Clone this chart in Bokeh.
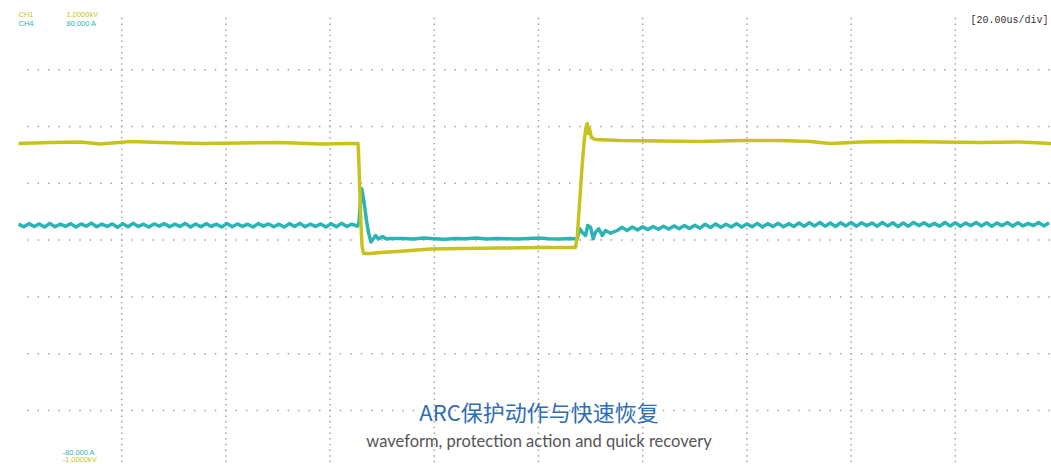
import numpy as np
from bokeh.plotting import figure
from bokeh.models import Range1d, Label
from bokeh.embed import file_html
from bokeh.resources import INLINE

# ---------------- scope settings ----------------
time_per_div_us = 20.0          # [20.00us/div]
ch1_limits_v = (-1000.0, 1000.0)  # CH1 screen lower / upper limit
ch4_limits_a = (-80.0, 80.0)      # CH4 screen lower / upper limit

# ---------------- CH1 voltage trace (V vs us) ----------------
ch1_t = [0.19, 6.33, 12.09, 15.93, 21.69, 27.44, 35.12, 42.80, 50.47, 58.15, 63.90,
         65.36, 65.55, 65.74, 65.93, 66.12, 66.41, 67.75, 69.67, 72.94, 79.27, 85.03,
         92.71, 100.38, 107.10, 107.46, 107.85, 108.33, 108.81, 109.19, 109.38, 109.57,
         109.77, 110.15, 110.92, 115.72, 123.39, 131.07, 138.74, 146.42, 152.17, 156.01,
         161.77, 169.45, 177.12, 184.80, 192.47, 198.42]
ch1_v = [425.1, 429.5, 431.7, 422.9, 433.9, 429.5, 425.1, 427.3, 429.5, 422.9, 425.1,
         425.2, 328.3, 196.3, 64.3, -23.8, -59.0, -59.0, -54.6, -50.2, -39.2, -37.0,
         -34.8, -32.6, -32.6, 20.2, 152.2, 315.0, 447.1, 504.4, 513.2, 469.2,
         491.2, 451.5, 442.7, 438.3, 436.1, 433.9, 438.3, 438.3, 433.9, 425.1,
         431.7, 433.9, 431.7, 429.5, 431.7, 425.1]

# ---------------- CH4 current trace (A vs us) ----------------
# before the arc event, sampled every 1 us from t = 0.2 us
ch4_pre = [5.6, 4.7, 5.8, 4.8, 5.7, 4.6, 5.9, 4.7, 5.6, 4.8, 5.8, 4.6, 5.7, 4.9, 6.0, 4.7,
           5.6, 4.8, 5.7, 4.5, 5.8, 4.7, 5.9, 4.8, 5.6, 4.6, 5.7, 4.9, 5.8, 4.7, 5.6, 4.8,
           5.9, 4.6, 5.7, 4.7, 5.8, 4.8, 5.6, 4.6, 5.9, 4.7, 5.7, 4.8, 5.6, 4.6, 5.8, 4.9,
           5.7, 4.7, 5.6, 4.6, 5.8, 4.8, 5.9, 4.7, 5.6, 4.8, 5.7, 4.6, 5.8, 4.7, 5.9, 4.8,
           5.6, 4.9]
# protection spike and low period
ch4_mid_t = [65.55, 65.84, 66.03, 66.22, 66.60, 66.99, 67.37, 67.85, 68.33, 68.72, 69.29,
             70.06, 70.83, 71.59, 74.0, 76.0, 78.0, 80.0, 82.0, 84.0, 86.0, 88.0, 90.0,
             92.0, 94.0, 96.0, 98.0, 100.0, 102.0, 104.0, 106.0, 107.1,
             107.42, 107.92, 108.38, 109.02, 109.46, 109.98, 110.50, 110.94, 111.57,
             112.23, 112.86, 113.82, 115.11]
ch4_mid_a = [6.20, 13.94, 18.17, 16.76, 12.18, 6.90, 2.68, -0.67, 0.56, 1.62, 0.39,
             1.27, 0.39, 0.56, 0.6, 0.4, 0.7, 0.5, 0.3, 0.6, 0.5, 0.7, 0.4,
             0.6, 0.5, 0.4, 0.6, 0.7, 0.5, 0.4, 0.6, 0.5,
             0.46, 3.98, 2.78, 1.62, 5.14, 4.54, 0.46, 2.78, 3.98,
             1.62, 3.38, 2.43, 3.38]
# after recovery, sampled every 1 us from t = 116 us
ch4_post = [4.5, 3.4, 4.6, 3.6, 4.7, 3.7, 4.8, 3.8, 4.9, 3.9, 5.0, 4.0, 5.1, 4.1, 5.2, 4.2,
            5.6, 4.4, 5.7, 4.5, 5.6, 4.6, 5.8, 4.6, 5.7, 4.7, 5.9, 4.6, 5.8, 4.8, 5.9, 4.7,
            5.8, 4.8, 6.0,
            4.9, 6.1, 5.0, 6.2, 4.9, 6.0, 4.8, 6.1, 5.0, 6.2, 4.9, 6.1, 5.1, 6.0, 4.9, 6.2,
            5.0, 6.1, 4.8, 6.0, 4.9, 6.2, 5.1, 6.1, 5.0, 5.9, 4.9, 6.2, 5.0, 6.1, 4.9, 6.0,
            5.1, 6.2, 5.0, 6.1, 4.9, 6.0, 5.1, 6.2, 4.9, 6.1, 5.0, 5.9, 5.1, 6.2, 5.0, 6.1]

ch4_t = list(0.2 + np.arange(len(ch4_pre))) + ch4_mid_t + list(116.0 + np.arange(len(ch4_post)))
ch4_a = ch4_pre + ch4_mid_a + ch4_post

# ---------------- texts ----------------
ch1_name, ch1_top_txt, ch1_bot_txt = "CH1", "1.0000kV", "-1.0000kV"
ch4_name, ch4_top_txt, ch4_bot_txt = "CH4", "80.000 A", "-80.000 A"
timebase_txt = "[20.00us/div]"
title_txt = "ARC保护动作与快速恢复"
subtitle_txt = "waveform, protection action and quick recovery"

YELLOW = "#c8c31c"
CYAN = "#2bb4b6"
DOT = "#a3a3a3"

# ---------------- geometry (screen) ----------------
W, H = 1051, 464
div_px_x, div_px_y = 104.2, 56.8
left_px = 17.0          # screen left edge inside frame
center_px = 239.6       # screen vertical centre inside frame

v_per_div = (ch1_limits_v[1] - ch1_limits_v[0]) / 8
a_per_div = (ch4_limits_a[1] - ch4_limits_a[0]) / 8

x0 = -left_px / div_px_x * time_per_div_us
x1 = (W - left_px) / div_px_x * time_per_div_us
vt = center_px / div_px_y * v_per_div
vb = -(H - center_px) / div_px_y * v_per_div
at = center_px / div_px_y * a_per_div
ab = -(H - center_px) / div_px_y * a_per_div


def px_t(xp):
    return (xp - left_px) / div_px_x * time_per_div_us


def px_v(yp):
    return (center_px - yp) / div_px_y * v_per_div


p = figure(width=W, height=H, x_range=Range1d(x0, x1), y_range=Range1d(vb, vt),
           output_backend="svg", toolbar_location=None, min_border=0,
           background_fill_color="white", border_fill_color="white")
p.extra_y_ranges = {"amp": Range1d(ab, at)}
p.xaxis.visible = False
p.yaxis.visible = False
p.grid.visible = False
p.outline_line_color = None

# dotted graticule
sub = np.arange(1, 100) / 10.0
hx, hy = [], []
for v in range(-3, 4):
    hx.extend(sub * time_per_div_us)
    hy.extend([v * v_per_div] * len(sub))
vsub = np.arange(-39, 40) / 10.0
for d in range(1, 10):
    hx.extend([d * time_per_div_us] * len(vsub))
    hy.extend(vsub * v_per_div)
p.scatter(hx, hy, marker="square", size=1.5, fill_color=DOT, line_color=None)

# traces
p.line(ch4_t, ch4_a, line_color=CYAN, line_width=3.5, line_join="round", y_range_name="amp")
p.line(ch1_t, ch1_v, line_color=YELLOW, line_width=3.5, line_join="round")

# labels
small = dict(text_font="Liberation Sans", text_font_size="7.5px", text_baseline="middle")
p.add_layout(Label(x=px_t(18), y=px_v(14), text=ch1_name, text_color=YELLOW, **small))
p.add_layout(Label(x=px_t(66), y=px_v(14), text=ch1_top_txt, text_color=YELLOW, **small))
p.add_layout(Label(x=px_t(18), y=px_v(22.5), text=ch4_name, text_color=CYAN, **small))
p.add_layout(Label(x=px_t(66), y=px_v(22.5), text=ch4_top_txt, text_color=CYAN, **small))
p.add_layout(Label(x=px_t(62), y=px_v(452), text=ch4_bot_txt, text_color=CYAN, **small))
p.add_layout(Label(x=px_t(62), y=px_v(459), text=ch1_bot_txt, text_color=YELLOW, **small))
p.add_layout(Label(x=px_t(970), y=px_v(20), text=timebase_txt, text_color="#333333",
                   text_font="Liberation Mono", text_font_size="10px", text_baseline="middle"))
p.add_layout(Label(x=px_t(538.5), y=px_v(410), text=title_txt, text_color="#2f6db5",
                   text_font="Noto Sans CJK SC", text_font_size="22px",
                   text_align="center", text_baseline="middle"))
p.add_layout(Label(x=px_t(538.5), y=px_v(440), text=subtitle_txt, text_color="#555555",
                   text_font="Lato", text_font_size="16.5px",
                   text_align="center", text_baseline="middle"))

open("out.html", "w").write(file_html(p, INLINE))
